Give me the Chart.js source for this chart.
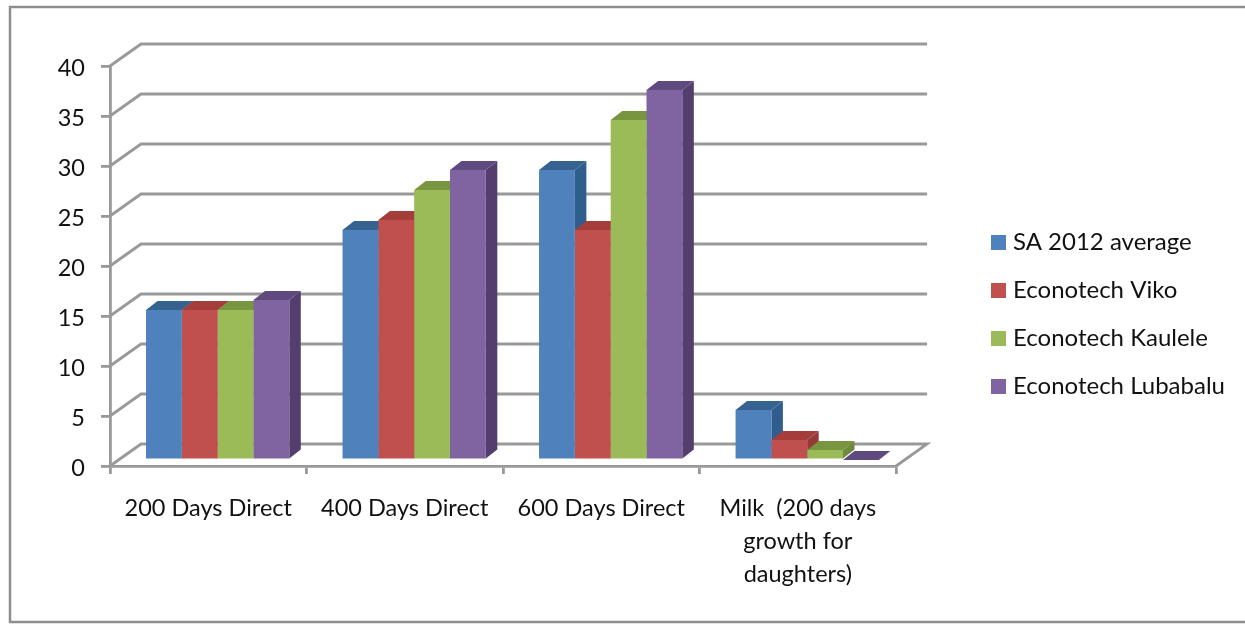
<!DOCTYPE html>
<html>
<head>
<meta charset="utf-8">
<title>Econotech growth comparison</title>
<script src="https://cdn.jsdelivr.net/npm/chart.js@4"></script>
<style>
    html, body { margin: 0; padding: 0; background: #fff; overflow: hidden; }
    canvas { display: block; }
</style>
</head>
<body>
<canvas id="growth-chart" width="1245" height="625"></canvas>
<script>
// Data
const categories = ['200 Days Direct', '400 Days Direct', '600 Days Direct', ['Milk  (200 days', 'growth for', 'daughters)']];
const saAverage = [15, 23, 29, 5];
const econotechViko = [15, 24, 23, 2];
const econotechKaulele = [15, 27, 34, 1];
const econotechLubabalu = [16, 29, 37, 0];
const yTicks = [0, 5, 10, 15, 20, 25, 30, 35, 40];

// Colours: front, side, top
const frontColors = ['#4f81bd', '#c0504d', '#9bbb59', '#8064a2'];
const sideColors = ['#2f5d8e', '#943a37', '#6f8a3c', '#533e6d'];
const topColors = ['#35628f', '#a53e3b', '#78953f', '#5f4a80'];
const axisColor = '#999999';
const textColor = '#111111';

// Perspective offsets, in pixels
const wallDepth = { x: 31, y: -22 };
const barDepth = { x: 11.5, y: -9 };
const barShift = { x: 9.4, y: -6 };

function polygon(ctx, points, color) {
    ctx.fillStyle = color;
    ctx.beginPath();
    points.forEach((p, i) => i ? ctx.lineTo(p[0], p[1]) : ctx.moveTo(p[0], p[1]));
    ctx.closePath();
    ctx.fill();
}

// Frame around the chart, open at the right hand side
const framePlugin = {
    id: 'frame',
    beforeDraw(chart) {
        const ctx = chart.ctx;
        ctx.save();
        ctx.strokeStyle = '#8e8e8e';
        ctx.lineWidth = 2.5;
        ctx.beginPath();
        ctx.moveTo(1245, 7);
        ctx.lineTo(10, 7);
        ctx.lineTo(10, 622);
        ctx.lineTo(1245, 622);
        ctx.stroke();
        ctx.restore();
    }
};

// Move the legend away from the plot
const legendPlugin = {
    id: 'legendMove',
    afterLayout(chart) {
        const legend = chart.legend;
        legend.left = 972;
        legend.right = 1245;
        legend.width = 273;
        legend.top = 29.5;
        legend.bottom = 599.5;
        legend.height = 570;
    }
};

// Side wall, back wall and the 3D sides of the bars
const depthPlugin = {
    id: 'depth',
    beforeDatasetsDraw(chart) {
        const ctx = chart.ctx;
        const area = chart.chartArea;
        const y = chart.scales.y;

        ctx.save();
        ctx.strokeStyle = axisColor;
        ctx.lineWidth = 2.8;
        yTicks.forEach(tick => {
            const py = y.getPixelForValue(tick);
            ctx.beginPath();
            ctx.moveTo(area.left, py);
            ctx.lineTo(area.left + wallDepth.x, py + wallDepth.y);
            ctx.lineTo(area.right + wallDepth.x, py + wallDepth.y);
            if (tick === 0) ctx.lineTo(area.right, py);
            ctx.stroke();
        });

        ctx.translate(barShift.x, barShift.y);
        const dx = barDepth.x, dy = barDepth.y;
        categories.forEach((c, index) => {
            chart.data.datasets.forEach((ds, di) => {
                const bar = chart.getDatasetMeta(di).data[index];
                const left = bar.x - bar.width / 2;
                const right = bar.x + bar.width / 2;
                if (bar.base - bar.y > 0.5) {
                    polygon(ctx, [[right, bar.y], [right + dx, bar.y + dy], [right + dx, bar.base + dy], [right, bar.base]], sideColors[di]);
                }
                polygon(ctx, [[left, bar.y], [left + dx, bar.y + dy], [right + dx, bar.y + dy], [right, bar.y]], topColors[di]);
            });
        });
    },
    afterDatasetsDraw(chart) {
        chart.ctx.restore();
    }
};

new Chart(document.getElementById('growth-chart'), {
    type: 'bar',
    data: {
        labels: categories,
        datasets: [
            { label: 'SA 2012 average', data: saAverage, backgroundColor: frontColors[0] },
            { label: 'Econotech Viko', data: econotechViko, backgroundColor: frontColors[1] },
            { label: 'Econotech Kaulele', data: econotechKaulele, backgroundColor: frontColors[2] },
            { label: 'Econotech Lubabalu', data: econotechLubabalu, backgroundColor: frontColors[3] }
        ]
    },
    plugins: [framePlugin, legendPlugin, depthPlugin],
    options: {
        responsive: false,
        animation: false,
        events: [],
        layout: { padding: { top: 66, bottom: 0, left: 0, right: 86 } },
        datasets: { bar: { barPercentage: 1, categoryPercentage: 0.729, borderWidth: 0 } },
        plugins: {
            tooltip: { enabled: false },
            legend: {
                position: 'right',
                labels: {
                    // small box with a thick stroke, keeps the text close to the swatch
                    boxWidth: 5,
                    boxHeight: 5,
                    padding: 24,
                    color: textColor,
                    font: { family: 'Lato', size: 24 },
                    generateLabels(chart) {
                        return Chart.defaults.plugins.legend.labels.generateLabels(chart).map(item => ({
                            ...item,
                            lineWidth: 10,
                            strokeStyle: item.fillStyle
                        }));
                    }
                }
            }
        },
        scales: {
            x: {
                afterFit(scale) { scale.height = 159; },
                border: { color: axisColor, width: 2.8 },
                grid: { drawOnChartArea: false, color: axisColor, lineWidth: 2.8, tickLength: 8 },
                ticks: {
                    autoSkip: false,
                    maxRotation: 0,
                    padding: 18,
                    color: textColor,
                    font: { family: 'Lato', size: 23.5, lineHeight: 1.4 }
                }
            },
            y: {
                min: 0,
                max: 40,
                afterFit(scale) { scale.width = 110; },
                afterBuildTicks(scale) { scale.ticks = yTicks.map(v => ({ value: v })); },
                border: { color: axisColor, width: 2.8 },
                grid: { drawOnChartArea: false, color: axisColor, lineWidth: 2.8, tickLength: 9 },
                ticks: {
                    padding: 16,
                    labelOffset: 2,
                    color: textColor,
                    font: { family: 'Lato', size: 23.5 }
                }
            }
        }
    }
});
</script>
</body>
</html>
